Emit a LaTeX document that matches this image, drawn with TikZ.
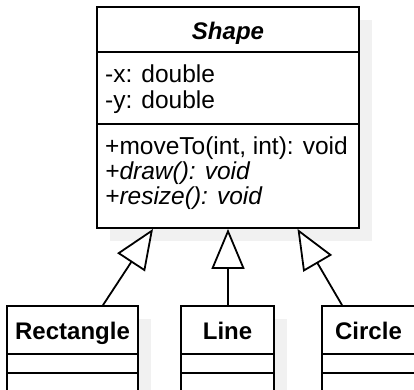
\documentclass[tikz,border=0pt]{standalone}
\usepackage{fontspec}
\setmainfont{Liberation Sans}
\usetikzlibrary{arrows.meta}
\definecolor{shadowgray}{HTML}{F1F1F1}
\begin{document}
\begin{tikzpicture}[x=1pt,y=-1pt,
  box/.style={draw=black, line width=1.8pt, fill=white, inner sep=0pt},
  shade/.style={fill=shadowgray},
  member/.style={anchor=base west, inner sep=0pt, font=\fontsize{24.5}{26}\selectfont},
  classname/.style={anchor=base, inner sep=0pt, font=\fontsize{24}{26}\selectfont\bfseries},
  sep/.style={line width=1.8pt},
  inherit/.style={line width=1.8pt, -{Triangle[open, length=40pt, width=33pt, fill=white]}}
]
\useasboundingbox (0,0) rectangle (414,389);
% shadows
\fill[shade] (110,20) rectangle (372,241);
\fill[shade] (20,319) rectangle (151,406);
\fill[shade] (194,319) rectangle (287,406);
\fill[shade] (335,319) rectangle (428,406);
% Shape class
\node[box, minimum width=262pt, minimum height=221pt] (shape) at (228,117.5) {};
\draw[sep] (shape.west |- 0,52) -- (shape.east |- 0,52);
\draw[sep] (shape.west |- 0,124) -- (shape.east |- 0,124);
\node[classname, font=\fontsize{24}{26}\selectfont\bfseries\itshape] (shapename) at (228,39) {Shape};
\node[member] (ax) at (105,82) {-x: double};
\node[member] (ay) at (105,108) {-y: double};
\node[member] (m1) at (105,154) {+moveTo(int, int): void};
\node[member, font=\fontsize{24.5}{26}\selectfont\itshape] (m2) at (105,179) {+draw(): void};
\node[member, font=\fontsize{24.5}{26}\selectfont\itshape] (m3) at (105,204) {+resize(): void};
% subclasses
\node[box, minimum width=131pt, minimum height=87pt] (rect) at (72.5,349.5) {};
\node[box, minimum width=93pt, minimum height=87pt] (line) at (227.5,349.5) {};
\node[box, minimum width=93pt, minimum height=87pt] (circ) at (368.5,349.5) {};
\foreach \b in {rect,line,circ}{
  \draw[sep] (\b.west |- 0,354) -- (\b.east |- 0,354);
  \draw[sep] (\b.west |- 0,373) -- (\b.east |- 0,373);
}
\node[classname] (rectname) at (72.5,339) {Rectangle};
\node[classname] (linename) at (227.5,339) {Line};
\node[classname] (circname) at (368.5,339) {Circle};
% generalizations
\draw[inherit] ([xshift=30.5pt]rect.north) -- ([xshift=-75pt]shape.south);
\draw[inherit] ([xshift=0.5pt]line.north) -- ([xshift=0.5pt]line.north |- shape.south);
\draw[inherit] ([xshift=-26.5pt]circ.north) -- ([xshift=69.5pt]shape.south);
\end{tikzpicture}
\end{document}
